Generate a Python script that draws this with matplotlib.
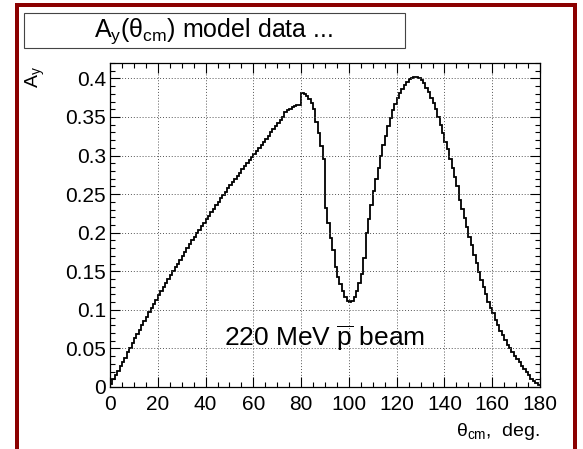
import numpy as np
import matplotlib
matplotlib.use("Agg")
import matplotlib.pyplot as plt
from matplotlib.ticker import MultipleLocator, FuncFormatter
from matplotlib.patches import Rectangle

plt.rcParams['font.family'] = ['Liberation Sans', 'DejaVu Sans']
plt.rcParams['mathtext.fontset'] = 'custom'
plt.rcParams['mathtext.rm'] = 'Liberation Sans'
plt.rcParams['mathtext.it'] = 'Liberation Sans:italic'
plt.rcParams['mathtext.bf'] = 'Liberation Sans:bold'

# --- data: A_y per 1-degree bin of theta_cm (0..180) ---
bin_edges_deg = list(range(0, 181))
ay_values = [
    0.004, 0.010, 0.016, 0.021, 0.027, 0.032, 0.038, 0.045, 0.051, 0.057,
    0.063, 0.069, 0.074, 0.080, 0.086, 0.091, 0.097, 0.102, 0.108, 0.113,
    0.119, 0.124, 0.129, 0.135, 0.140, 0.145, 0.150, 0.155, 0.160, 0.165,
    0.170, 0.175, 0.180, 0.185, 0.190, 0.195, 0.199, 0.204, 0.209, 0.213,
    0.218, 0.222, 0.227, 0.231, 0.236, 0.240, 0.245, 0.249, 0.253, 0.258,
    0.262, 0.266, 0.270, 0.274, 0.278, 0.282, 0.286, 0.290, 0.294, 0.298,
    0.302, 0.306, 0.310, 0.314, 0.318, 0.322, 0.326, 0.330, 0.334, 0.338,
    0.342, 0.346, 0.350, 0.356, 0.359, 0.361, 0.363, 0.364, 0.365, 0.365,
    0.381, 0.380, 0.377, 0.373, 0.368, 0.360, 0.343, 0.329, 0.312, 0.295,
    0.232, 0.212, 0.193, 0.178, 0.155, 0.142, 0.133, 0.125, 0.117, 0.112,
    0.110, 0.111, 0.117, 0.124, 0.135, 0.147, 0.167, 0.200, 0.218, 0.236,
    0.254, 0.270, 0.284, 0.299, 0.314, 0.326, 0.338, 0.349, 0.359, 0.367,
    0.375, 0.381, 0.386, 0.391, 0.396, 0.399, 0.401, 0.402, 0.402, 0.401,
    0.398, 0.394, 0.388, 0.382, 0.375, 0.368, 0.360, 0.350, 0.340, 0.329,
    0.317, 0.308, 0.295, 0.284, 0.272, 0.260, 0.243, 0.231, 0.219, 0.208,
    0.194, 0.184, 0.171, 0.161, 0.149, 0.139, 0.129, 0.120, 0.110, 0.102,
    0.096, 0.087, 0.080, 0.073, 0.067, 0.061, 0.055, 0.050, 0.045, 0.040,
    0.036, 0.032, 0.027, 0.023, 0.019, 0.015, 0.011, 0.008, 0.005, 0.002,
]
x_ticks = [0, 20, 40, 60, 80, 100, 120, 140, 160, 180]
y_ticks = [0, 0.05, 0.1, 0.15, 0.2, 0.25, 0.3, 0.35, 0.4]
title_text = r"A$_\mathrm{y}$($\mathrm{\theta_{cm}}$) model data ..."
x_label = r"$\mathrm{\theta_{cm}}$,  deg."
y_label = r"A$_\mathrm{y}$"
beam_text = r"220 MeV $\overline{\mathrm{p}}$ beam"

W, H = 583, 449
fig = plt.figure(figsize=(W / 100, H / 100), dpi=100)
fig.patch.set_facecolor('white')

def fx(px):
    return px / W

def fy(py):
    return 1 - py / H

# red frame
red = '#8b0000'
fig.add_artist(Rectangle((fx(15), fy(449 + 10)), fx(4), (449 + 10 - 3) / H,
                         transform=fig.transFigure, facecolor=red, edgecolor='none'))
fig.add_artist(Rectangle((fx(573), fy(449 + 10)), fx(4), (449 + 10 - 3) / H,
                         transform=fig.transFigure, facecolor=red, edgecolor='none'))
fig.add_artist(Rectangle((fx(15), fy(7)), fx(562), 4 / H,
                         transform=fig.transFigure, facecolor=red, edgecolor='none'))

# title box
fig.add_artist(Rectangle((fx(24), fy(48)), fx(405 - 24), 35 / H,
                         transform=fig.transFigure, facecolor='white',
                         edgecolor='#444444', linewidth=0.8))
fig.text(fx(214), fy(31), title_text, ha='center', va='center', fontsize=18)

ax = fig.add_axes([fx(110), fy(387), fx(540 - 110), (387 - 63) / H])
ax.stairs(ay_values, bin_edges_deg, color='black', linewidth=1.3, baseline=None)
ax.set_xlim(0, 180)
ax.set_ylim(0, 0.42)
ax.set_xticks(x_ticks)
ax.set_yticks(y_ticks)
ax.xaxis.set_minor_locator(MultipleLocator(5))
ax.yaxis.set_minor_locator(MultipleLocator(0.01))
ax.yaxis.set_major_formatter(FuncFormatter(lambda v, p: '%g' % round(v, 3)))
ax.tick_params(which='both', direction='in', top=True, right=True,
               labelsize=15, width=0.8, color='black')
ax.tick_params(which='major', length=7)
ax.tick_params(which='minor', length=3.5)
ax.tick_params(axis='y', pad=3)
ax.tick_params(axis='x', pad=6)
ax.grid(True, which='major', color='#555555', linestyle=(0, (1, 2)), linewidth=0.7)
for s in ax.spines.values():
    s.set_linewidth(0.9)

ax.text(90, 0.053, beam_text, ha='center', va='baseline', fontsize=19)

fig.text(fx(540), fy(436), x_label, ha='right', va='baseline', fontsize=14)
fig.text(fx(35), fy(66), y_label, ha='center', va='top', rotation=90, fontsize=14)

fig.savefig('out.png', dpi=100, facecolor='white')
